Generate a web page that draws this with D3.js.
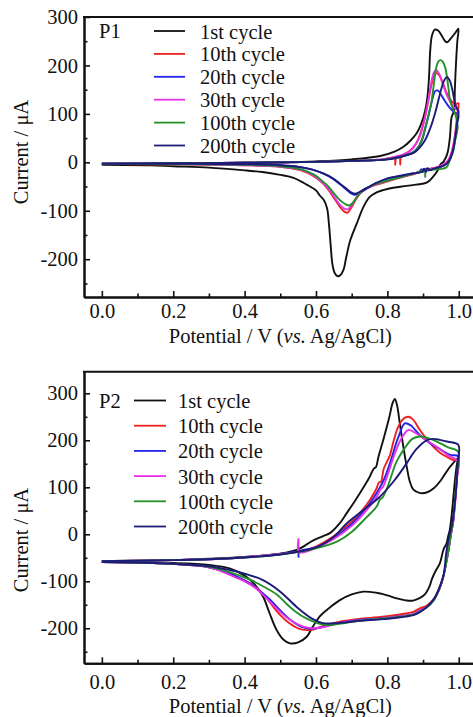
<!DOCTYPE html>
<html><head><meta charset="utf-8">
<script src="https://cdn.jsdelivr.net/npm/d3@7"></script>
<style>
body{margin:0;background:#fff;overflow:hidden}
text{font-family:"Liberation Serif","Times New Roman",serif;fill:#111}
</style>
</head><body>
<svg id="chart" width="473" height="717"></svg>
<script>
// ---------- data ----------
const cycleLabels = ["1st cycle","10th cycle","20th cycle","30th cycle","100th cycle","200th cycle"];
const panelNames = ["P1","P2"];
const xTickValues = [0,0.2,0.4,0.6,0.8,1.0];
const xMinorValues = [0.1,0.3,0.5,0.7,0.9];
const yTickValues = [-200,-100,0,100,200,300];
const yMinorValues = [-250,-150,-50,50,150,250];

// P1: [potential V, current uA] in scan order
const p1Cycle1 = [[0,-3],[0.1,-3],[0.2,-2],[0.3,-2],[0.4,-1],[0.5,0],[0.6,2],[0.7,6],[0.78,13],[0.82,22],[0.845,32],[0.865,45],[0.882,60],[0.895,80],[0.906,107],[0.913,140],[0.917,180],[0.92,230],[0.925,262],[0.933,274],[0.942,272],[0.952,262],[0.962,250],[0.968,248],[0.978,256],[0.99,267],[0.999,276],
 [0.996,250],[0.992,200],[0.989,150],[0.987,107],[0.98,93],[0.975,50],[0.968,18],[0.958,2],[0.948,-5],[0.94,-18],[0.93,-28],[0.91,-42],[0.88,-46],[0.84,-50],[0.8,-55],[0.77,-62],[0.75,-72],[0.733,-92],[0.715,-125],[0.696,-161],[0.685,-195],[0.677,-222],[0.668,-233],[0.66,-235],[0.652,-228],[0.646,-210],[0.641,-170],[0.636,-125],[0.631,-95],[0.622,-78],[0.61,-68],[0.6,-58],[0.574,-46],[0.537,-32],[0.5,-26],[0.45,-20],[0.406,-17],[0.3,-11],[0.2,-8],[0.135,-6],[0,-5]];
const p1Cycle10 = [[0,-3],[0.2,-2],[0.4,-1],[0.6,1],[0.7,3],[0.78,5],[0.82,9],[0.822,-5],[0.825,10],[0.834,12],[0.836,-5],[0.839,13],[0.86,22],[0.88,38],[0.895,65],[0.907,100],[0.918,140],[0.928,172],[0.937,184],[0.945,180],[0.955,165],[0.965,145],[0.978,128],[0.99,120],[0.999,122],
 [0.996,100],[0.99,60],[0.982,25],[0.972,5],[0.962,-3],[0.948,-8],[0.93,-12],[0.9,-16],[0.88,-23],[0.85,-29],[0.81,-37],[0.78,-44],[0.75,-51],[0.73,-60],[0.714,-74],[0.7,-92],[0.688,-104],[0.678,-101],[0.667,-92],[0.649,-72],[0.635,-57],[0.62,-44],[0.6,-32],[0.58,-23],[0.556,-16],[0.5,-9],[0.4,-6],[0.3,-5],[0.2,-4],[0.1,-4],[0,-3]];
const p1Cycle20 = [[0,-3],[0.2,-2],[0.4,-1],[0.6,1],[0.7,3],[0.78,5],[0.84,12],[0.87,20],[0.885,30],[0.898,48],[0.908,75],[0.918,105],[0.926,130],[0.934,147],[0.942,148],[0.95,140],[0.96,128],[0.972,115],[0.985,105],[0.999,97],
 [0.995,80],[0.99,50],[0.982,20],[0.972,2],[0.96,-6],[0.945,-10],[0.93,-13],[0.915,-17],[0.905,-13],[0.9,-20],[0.895,-14],[0.89,-20],[0.87,-23],[0.84,-27],[0.8,-34],[0.77,-43],[0.745,-53],[0.725,-62],[0.708,-67],[0.696,-63],[0.683,-55],[0.667,-45],[0.645,-33],[0.62,-23],[0.59,-15],[0.556,-10],[0.5,-6],[0.4,-4],[0.2,-3],[0,-3]];
const p1Cycle30 = [[0,-3],[0.2,-2],[0.4,-1],[0.6,1],[0.7,3],[0.78,6],[0.83,13],[0.86,22],[0.875,33],[0.89,52],[0.903,85],[0.913,120],[0.922,160],[0.93,185],[0.937,190],[0.945,183],[0.955,162],[0.967,138],[0.98,120],[0.992,110],[0.999,108],
 [0.996,90],[0.99,55],[0.98,22],[0.97,4],[0.96,-3],[0.948,-8],[0.93,-12],[0.9,-16],[0.88,-22],[0.85,-28],[0.81,-36],[0.78,-43],[0.75,-50],[0.73,-58],[0.714,-72],[0.7,-88],[0.689,-97],[0.678,-95],[0.667,-88],[0.649,-69],[0.635,-55],[0.62,-43],[0.6,-31],[0.58,-22],[0.556,-15],[0.5,-9],[0.4,-6],[0.2,-4],[0,-3]];
const p1Cycle100 = [[0,-3],[0.2,-2],[0.4,-1],[0.6,1],[0.7,3],[0.78,5],[0.83,10],[0.86,17],[0.875,22],[0.887,31],[0.898,50],[0.906,72],[0.916,100],[0.924,127],[0.93,160],[0.936,192],[0.942,207],[0.948,211],[0.955,208],[0.962,196],[0.97,160],[0.976,127],[0.985,108],[0.99,100],[0.997,74],
 [0.99,45],[0.985,24],[0.975,5],[0.966,-10],[0.948,-14],[0.93,-15],[0.908,-17],[0.906,-30],[0.904,-17],[0.88,-22],[0.85,-28],[0.81,-36],[0.78,-42],[0.75,-50],[0.73,-58],[0.714,-72],[0.703,-84],[0.693,-89],[0.682,-86],[0.667,-78],[0.649,-63],[0.635,-50],[0.62,-40],[0.6,-28],[0.58,-20],[0.556,-14],[0.5,-8],[0.4,-5],[0.2,-4],[0,-3]];
const p1Cycle200 = [[0,-3],[0.2,-2],[0.4,-1],[0.6,1],[0.7,3],[0.8,6],[0.85,14],[0.875,20],[0.89,30],[0.905,45],[0.92,70],[0.935,105],[0.947,140],[0.957,165],[0.966,176],[0.974,170],[0.982,150],[0.99,120],[0.999,104],
 [0.995,80],[0.99,50],[0.982,20],[0.972,2],[0.96,-6],[0.945,-10],[0.93,-13],[0.92,-16],[0.912,-12],[0.908,-20],[0.902,-13],[0.896,-20],[0.87,-23],[0.845,-27],[0.8,-33],[0.77,-42],[0.745,-52],[0.725,-60],[0.71,-65],[0.698,-62],[0.685,-54],[0.667,-44],[0.645,-32],[0.62,-23],[0.59,-15],[0.556,-10],[0.5,-6],[0.4,-4],[0.2,-3],[0,-3]];

// P2
const p2Cycle1 = [[0,-57],[0.1,-56],[0.2,-55],[0.3,-52],[0.4,-48],[0.5,-41],[0.55,-32],[0.59,-14],[0.62,-4],[0.64,3],[0.665,22],[0.686,45],[0.71,72],[0.735,102],[0.751,123],[0.762,140],[0.768,143],[0.775,165],[0.79,205],[0.805,248],[0.815,280],[0.821,288],[0.827,275],[0.835,235],[0.845,185],[0.854,145],[0.863,112],[0.873,95],[0.89,88],[0.91,89],[0.93,98],[0.95,115],[0.97,138],[0.985,152],[0.998,162],
 [0.995,150],[0.99,120],[0.985,80],[0.98,40],[0.975,10],[0.97,-5],[0.966,-19],[0.957,-33],[0.947,-62],[0.935,-78],[0.925,-95],[0.918,-111],[0.905,-128],[0.89,-136],[0.872,-141],[0.855,-141],[0.83,-137],[0.8,-130],[0.78,-126],[0.755,-123],[0.733,-122],[0.7,-128],[0.667,-140],[0.64,-155],[0.61,-175],[0.59,-198],[0.574,-218],[0.55,-230],[0.527,-232],[0.51,-225],[0.49,-204],[0.47,-168],[0.452,-133],[0.43,-108],[0.4,-88],[0.36,-73],[0.3,-65],[0.2,-61],[0.1,-60],[0,-59]];
const p2Cycle10 = [[0,-57],[0.2,-55],[0.36,-51],[0.5,-42],[0.55,-37],[0.6,-26],[0.648,-5],[0.69,20],[0.723,45],[0.75,72],[0.77,98],[0.776,110],[0.782,112],[0.79,140],[0.807,168],[0.818,200],[0.83,228],[0.845,246],[0.859,250],[0.872,244],[0.891,222],[0.91,203],[0.929,186],[0.95,172],[0.966,165],[0.985,158],[0.998,156],
 [0.995,120],[0.99,70],[0.984,25],[0.978,0],[0.972,-30],[0.962,-70],[0.956,-92],[0.945,-115],[0.93,-138],[0.91,-152],[0.89,-158],[0.873,-165],[0.82,-172],[0.78,-176],[0.72,-180],[0.667,-186],[0.62,-195],[0.595,-202],[0.574,-204],[0.55,-200],[0.52,-186],[0.5,-172],[0.48,-154],[0.46,-134],[0.44,-118],[0.41,-102],[0.386,-94],[0.36,-84],[0.3,-70],[0.2,-63],[0.1,-60],[0,-59]];
const p2Cycle20 = [[0,-57],[0.2,-55],[0.36,-51],[0.5,-42],[0.545,-37],[0.55,-37],[0.551,-48],[0.553,-37],[0.6,-28],[0.65,-8],[0.7,22],[0.74,55],[0.77,88],[0.785,108],[0.795,125],[0.81,158],[0.83,205],[0.849,236],[0.865,232],[0.89,212],[0.919,194],[0.95,180],[0.976,169],[0.998,166],
 [0.995,125],[0.99,75],[0.984,25],[0.978,0],[0.972,-30],[0.962,-72],[0.955,-95],[0.945,-118],[0.93,-140],[0.91,-155],[0.89,-163],[0.873,-170],[0.82,-176],[0.78,-179],[0.72,-182],[0.667,-188],[0.63,-195],[0.6,-200],[0.585,-201],[0.56,-197],[0.53,-183],[0.5,-162],[0.47,-138],[0.45,-125],[0.42,-107],[0.39,-94],[0.36,-84],[0.3,-70],[0.2,-63],[0.1,-60],[0,-59]];
const p2Cycle30 = [[0,-57],[0.2,-55],[0.36,-51],[0.5,-42],[0.548,-38],[0.55,-38],[0.551,-10],[0.552,-38],[0.6,-29],[0.65,-10],[0.7,18],[0.74,50],[0.77,80],[0.78,95],[0.787,100],[0.8,125],[0.82,170],[0.84,205],[0.859,222],[0.88,215],[0.91,200],[0.938,186],[0.97,168],[0.998,155],
 [0.995,120],[0.99,70],[0.984,25],[0.978,0],[0.972,-30],[0.962,-72],[0.955,-95],[0.945,-118],[0.93,-140],[0.91,-155],[0.89,-163],[0.873,-170],[0.82,-176],[0.78,-180],[0.72,-183],[0.667,-189],[0.63,-196],[0.6,-200],[0.58,-199],[0.55,-192],[0.52,-178],[0.49,-158],[0.46,-135],[0.43,-114],[0.4,-100],[0.37,-90],[0.33,-77],[0.3,-70],[0.2,-63],[0.1,-60],[0,-59]];
const p2Cycle100 = [[0,-57],[0.2,-55],[0.36,-51],[0.5,-43],[0.6,-30],[0.66,-15],[0.7,5],[0.74,35],[0.77,59],[0.78,75],[0.785,77],[0.8,100],[0.826,155],[0.85,185],[0.87,203],[0.891,208],[0.92,203],[0.947,194],[0.97,185],[0.998,176],
 [0.995,130],[0.99,80],[0.984,30],[0.978,0],[0.972,-30],[0.962,-72],[0.955,-95],[0.945,-118],[0.93,-140],[0.91,-156],[0.89,-165],[0.873,-171],[0.82,-177],[0.78,-180],[0.72,-184],[0.68,-189],[0.64,-193],[0.62,-192],[0.6,-188],[0.57,-178],[0.545,-166],[0.52,-150],[0.49,-128],[0.45,-110],[0.42,-98],[0.39,-89],[0.36,-81],[0.3,-69],[0.2,-63],[0.1,-60],[0,-59]];
const p2Cycle200 = [[0,-57],[0.2,-55],[0.36,-51],[0.5,-43],[0.6,-28],[0.65,-5],[0.686,23],[0.73,50],[0.779,80],[0.82,115],[0.854,151],[0.88,180],[0.91,200],[0.93,203],[0.947,201],[0.97,197],[0.999,190],
 [0.997,150],[0.993,100],[0.988,60],[0.982,25],[0.976,5],[0.97,-15],[0.964,-45],[0.958,-85],[0.945,-115],[0.93,-138],[0.91,-155],[0.89,-166],[0.873,-172],[0.82,-178],[0.78,-181],[0.72,-184],[0.68,-188],[0.658,-189],[0.62,-189],[0.59,-180],[0.545,-154],[0.5,-122],[0.45,-97],[0.4,-84],[0.358,-76],[0.3,-68],[0.2,-63],[0.1,-60],[0,-59]];

// ---------- styles / layout ----------
const cycleColors = ["#111111","#ee2020","#2323e6","#e632e6","#23912a","#1c1c78"];
const xDomain = [-0.05, 1.05];
const panels = [
  {name: panelNames[0], top: 17, bottom: 297, yDomain: [-278, 300],
   series: [p1Cycle1,p1Cycle10,p1Cycle20,p1Cycle30,p1Cycle100,p1Cycle200],
   tickBase: 318, titleBase: 342.5, yTitleY: 152,
   legend: {lineX0: 154, lineX1: 185, textX: 200, y0: 31, dy: 22.9}, labelBase: 38},
  {name: panelNames[1], top: 371.7, bottom: 663.3, yDomain: [-274.5, 346],
   series: [p2Cycle1,p2Cycle10,p2Cycle20,p2Cycle30,p2Cycle100,p2Cycle200],
   tickBase: 689, titleBase: 712.5, yTitleY: 540,
   legend: {lineX0: 134, lineX1: 166, textX: 178, y0: 400.5, dy: 25.2}, labelBase: 408}
];
const left = 84, right = 476.6, fs = 20.5;

const svg = d3.select("#chart");
const x = d3.scaleLinear().domain(xDomain).range([left, right]);

panels.forEach(p => {
  const y = d3.scaleLinear().domain(p.yDomain).range([p.bottom, p.top]);
  const g = svg.append("g");

  // curves
  const line = d3.line().x(d => x(d[0])).y(d => y(d[1])).curve(d3.curveCatmullRom.alpha(0.5));
  p.series.forEach((s, i) => {
    g.append("path").datum(s).attr("d", line)
      .attr("fill", "none").attr("stroke", cycleColors[i])
      .attr("stroke-width", 1.9).attr("stroke-linejoin", "round");
  });

  // axes
  const yAxis = d3.axisLeft(y).tickValues(yTickValues).tickSize(-6).tickSizeOuter(0).tickPadding(6)
    .tickFormat(d => String(d));
  const yMinor = d3.axisLeft(y).tickValues(yMinorValues).tickSize(-3.5).tickSizeOuter(0).tickFormat("");
  const xAxis = d3.axisBottom(x).tickValues(xTickValues).tickSize(-6).tickSizeOuter(0).tickPadding(6)
    .tickFormat(d3.format(".1f"));
  const xMinor = d3.axisBottom(x).tickValues(xMinorValues).tickSize(-3.5).tickSizeOuter(0).tickFormat("");

  [yAxis, yMinor].forEach(ax => {
    const a = g.append("g").attr("transform", `translate(${left},0)`).call(ax);
    a.attr("font-family", null);
    a.select(".domain").attr("stroke", "#111").attr("stroke-width", 2);
    a.selectAll(".tick line").attr("stroke", "#111").attr("stroke-width", 1.6);
    a.selectAll(".tick text").attr("font-size", fs).attr("fill", "#111");
  });
  [xAxis, xMinor].forEach(ax => {
    const a = g.append("g").attr("transform", `translate(0,${p.bottom})`).call(ax);
    a.attr("font-family", null);
    a.select(".domain").attr("stroke", "#111").attr("stroke-width", 2);
    a.selectAll(".tick line").attr("stroke", "#111").attr("stroke-width", 1.6);
    a.selectAll(".tick text").attr("font-size", fs).attr("fill", "#111")
      .attr("dy", null).attr("y", p.tickBase - p.bottom);
  });

  // top frame line
  g.append("line").attr("x1", left - 1).attr("x2", 480).attr("y1", p.top).attr("y2", p.top)
    .attr("stroke", "#111").attr("stroke-width", 2);

  // axis titles
  const xt = g.append("text").attr("x", (left + right) / 2).attr("y", p.titleBase)
    .attr("text-anchor", "middle").attr("font-size", fs);
  xt.append("tspan").text("Potential / V (");
  xt.append("tspan").attr("font-style", "italic").text("vs.");
  xt.append("tspan").text(" Ag/AgCl)");

  g.append("text").attr("transform", `translate(28,${p.yTitleY}) rotate(-90)`)
    .attr("text-anchor", "middle").attr("font-size", fs).text("Current / \u03bcA");

  // panel label
  g.append("text").attr("x", 99).attr("y", p.labelBase).attr("font-size", fs).text(p.name);

  // legend
  cycleLabels.forEach((lab, i) => {
    const ly = p.legend.y0 + i * p.legend.dy;
    g.append("line").attr("x1", p.legend.lineX0).attr("x2", p.legend.lineX1)
      .attr("y1", ly).attr("y2", ly).attr("stroke", cycleColors[i]).attr("stroke-width", 1.8);
    g.append("text").attr("x", p.legend.textX).attr("y", ly + 7.5).attr("font-size", fs).text(lab);
  });
});
</script>
</body></html>
